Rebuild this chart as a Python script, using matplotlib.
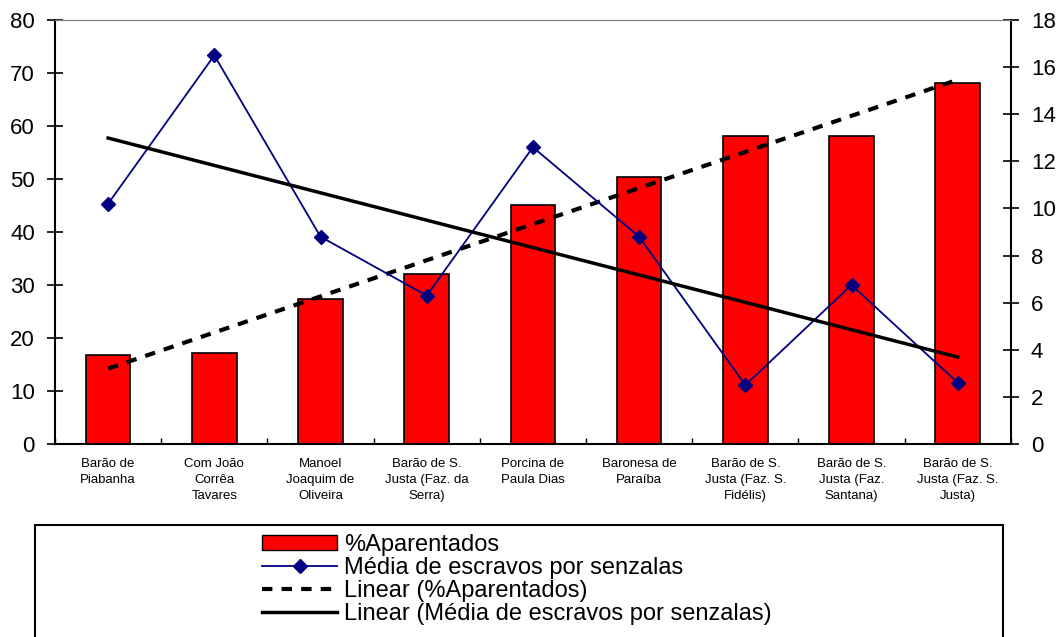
import numpy as np
import matplotlib.pyplot as plt
from matplotlib.patches import Rectangle
from matplotlib.lines import Line2D
from matplotlib.patches import Patch

plt.rcParams['font.family'] = ['Liberation Sans', 'DejaVu Sans']

categorias = ['Barão de\nPiabanha', 'Com João\nCorrêa\nTavares', 'Manoel\nJoaquim de\nOliveira',
              'Barão de S.\nJusta (Faz. da\nSerra)', 'Porcina de\nPaula Dias', 'Baronesa de\nParaíba',
              'Barão de S.\nJusta (Faz. S.\nFidélis)', 'Barão de S.\nJusta (Faz.\nSantana)',
              'Barão de S.\nJusta (Faz. S.\nJusta)']
aparentados = [16.8, 17.2, 27.3, 32.0, 45.0, 50.4, 58.2, 58.2, 68.2]
media_escravos = [10.2, 16.5, 8.8, 6.3, 12.6, 8.8, 2.5, 6.75, 2.6]

x = np.arange(1, len(categorias) + 1)

fig = plt.figure(figsize=(10.64, 6.37), dpi=100)
ax = fig.add_axes([0.0517, 0.303, 0.8983, 0.6656])
ax2 = ax.twinx()

# barras + tendencia linear
ax.bar(x, aparentados, width=0.42, color='#ff0000', edgecolor='black', linewidth=1.2, zorder=2)
p1 = np.polyfit(x, aparentados, 1)
ax.plot(x, np.polyval(p1, x), color='black', lw=3, ls=(0, (2.5, 2.2)), zorder=3)

# linha no eixo direito + tendencia
ax2.plot(x, media_escravos, color='#000080', lw=1.3, marker='D', markersize=7, zorder=3)
p2 = np.polyfit(x, media_escravos, 1)
ax2.plot(x, np.polyval(p2, x), color='black', lw=2.5, zorder=4)

ax.set_xlim(0.5, 9.5)
ax.set_ylim(0, 80)
ax2.set_ylim(0, 18)
ax.set_yticks(range(0, 81, 10))
ax2.set_yticks(range(0, 19, 2))
ax.set_xticks(np.arange(0.5, 9.6, 1))
ax.set_xticklabels([])
ax.set_xticks(x, minor=True)
ax.set_xticklabels(categorias, minor=True, fontsize=9.5, linespacing=1.45)
ax.tick_params(axis='x', which='minor', length=0, pad=10)
ax.tick_params(axis='x', which='major', length=4, direction='in', width=1)
ax.tick_params(axis='y', labelsize=16, length=11, direction='inout', width=1.2, pad=9)
ax2.tick_params(axis='y', labelsize=16, length=11, direction='inout', width=1.2, pad=9)

for a in (ax, ax2):
    a.spines['top'].set_color('#808080')
ax.spines['right'].set_visible(False)
ax2.spines['left'].set_visible(False)
ax2.spines['bottom'].set_visible(False)
ax.spines['left'].set_linewidth(1.5)
ax.spines['bottom'].set_linewidth(1.5)
ax2.spines['right'].set_linewidth(1.5)

# caixa da legenda
fig.patches.append(Rectangle((35 / 1064, -0.05), (1003 - 35) / 1064, (637 - 525) / 637 + 0.05,
                             transform=fig.transFigure, fill=False, edgecolor='black', lw=1.5))
handles = [Patch(facecolor='#ff0000', edgecolor='black'),
           Line2D([], [], color='#000080', lw=1.3, marker='D', markersize=7),
           Line2D([], [], color='black', lw=3, ls=(0, (2.5, 2.2))),
           Line2D([], [], color='black', lw=2.5)]
labels = ['%Aparentados', 'Média de escravos por senzalas', 'Linear (%Aparentados)',
          'Linear (Média de escravos por senzalas)']
fig.legend(handles, labels, loc='upper left', bbox_to_anchor=(250 / 1064, 1 - 522 / 637),
           frameon=False, fontsize=17, handlelength=3.2, handleheight=0.6,
           labelspacing=0.05, handletextpad=0.3, borderpad=0)

fig.savefig('out.png', dpi=100)
